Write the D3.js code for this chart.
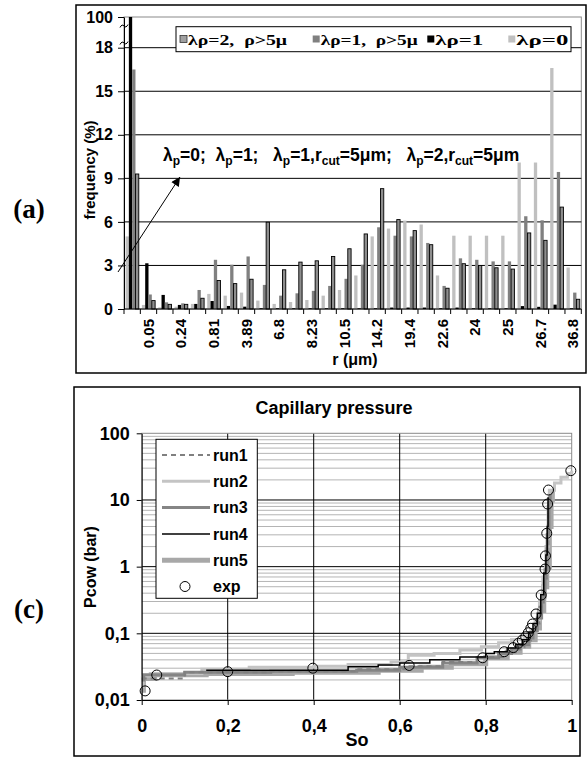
<!DOCTYPE html>
<html>
<head>
<meta charset="utf-8">
<script src="https://cdn.jsdelivr.net/npm/d3@7"></script>
<style>
  body { margin: 0; background: #fff; }
  svg { display: block; font-family: "Liberation Sans", Arial, sans-serif; }
</style>
</head>
<body>
<svg id="chart" width="587" height="757"></svg>
<script>
// ---------- panel (a): pore radius distribution ----------
const rLabels = ["0.02", "0.05", "0.12", "0.24", "0.5", "0.81", "2.1", "3.89", "5.4", "6.8",
                 "7.6", "8.23", "9.3", "10.5", "12.3", "14.2", "16.8", "19.4", "21", "22.6",
                 "23.3", "24", "24.5", "25", "25.9", "26.7", "31", "36.8"];
const lam0    = [5.0, 0.28, 0.11, 0.16, 0.35, 1.04, 0.92, 1.13, 0.58, 0.35, 0.48, 0.62, 0.92, 1.31,
                 2.31, 5.0, 5.54, 6.09, 5.82, 2.31, 5.05, 5.05, 5.05, 5.05, 10.09, 10.09, 16.6, 2.86];
const lam1    = [100, 3.15, 0.97, 0.28, 0.35, 0.55, 0.21, 0.16, 0.05, 0.05, 0.05, 0.05, 0.05, 0.05,
                 0.05, 0.05, 0.1, 0.1, 0.1, 0.05, 0.1, 0.05, 0.05, 0.05, 0.2, 0.15, 0.3, 0.05];
const lam1cut = [16.5, 1.0, 0.46, 0.39, 1.31, 3.39, 3.05, 3.62, 1.66, 0.92, 1.08, 1.25, 1.59, 2.08,
                 3.05, 5.63, 5.05, 5.0, 4.55, 1.59, 3.49, 3.39, 3.28, 3.28, 6.39, 6.11, 9.44, 1.13];
const lam2cut = [9.3, 0.58, 0.32, 0.32, 0.74, 1.96, 1.75, 2.05, 5.98, 2.7, 3.23, 3.32, 3.62, 4.15,
                 5.17, 8.29, 6.16, 5.4, 4.43, 1.43, 3.12, 3.0, 2.84, 2.75, 5.24, 4.73, 7.02, 0.67];
const freqTicks = [0, 3, 6, 9, 12, 15, 18, 100];

// ---------- panel (c): capillary pressure curves, [So, Pcow] ----------
const run1 = [[0, 0.021], [0.1, 0.026], [0.3, 0.027], [0.5, 0.029], [0.62, 0.032], [0.7, 0.037],
              [0.78, 0.044], [0.84, 0.052], [0.87, 0.062], [0.89, 0.078], [0.905, 0.1], [0.915, 0.14],
              [0.925, 0.25], [0.935, 0.6], [0.942, 2], [0.946, 8], [0.948, 12]];
const run2 = [[0, 0.016], [0.003, 0.023], [0.02, 0.025], [0.14, 0.029], [0.25, 0.031], [0.4, 0.032],
              [0.48, 0.034], [0.58, 0.037], [0.62, 0.047], [0.68, 0.05], [0.74, 0.056], [0.79, 0.063],
              [0.83, 0.072], [0.86, 0.08], [0.89, 0.092], [0.905, 0.11], [0.915, 0.15], [0.925, 0.3],
              [0.933, 0.7], [0.94, 2], [0.945, 8], [0.948, 14], [0.96, 18], [0.975, 22], [0.99, 25],
              [1.0, 27.5]];
const run3 = [[0, 0.02], [0.005, 0.024], [0.1, 0.026], [0.3, 0.027], [0.5, 0.028], [0.6, 0.031],
              [0.7, 0.036], [0.78, 0.043], [0.83, 0.05], [0.86, 0.058], [0.88, 0.068], [0.9, 0.085],
              [0.91, 0.11], [0.92, 0.17], [0.93, 0.35], [0.938, 0.9], [0.943, 3], [0.947, 9], [0.95, 12]];
const run4 = [[0.15, 0.028], [0.48, 0.0316], [0.55, 0.0335], [0.6, 0.036], [0.67, 0.04], [0.74, 0.044],
              [0.8, 0.05], [0.82, 0.053], [0.85, 0.06], [0.87, 0.068], [0.885, 0.08], [0.9, 0.105],
              [0.91, 0.14], [0.92, 0.2], [0.928, 0.38], [0.935, 0.8], [0.94, 1.5], [0.943, 4], [0.945, 11]];
const run5 = [[0, 0.014], [0.004, 0.021], [0.03, 0.024], [0.15, 0.025], [0.35, 0.026], [0.55, 0.028],
              [0.65, 0.031], [0.72, 0.035], [0.8, 0.043], [0.85, 0.052], [0.88, 0.064], [0.9, 0.08],
              [0.915, 0.12], [0.925, 0.22], [0.935, 0.5], [0.942, 1.0], [0.948, 4], [0.952, 10], [0.955, 14]];
const expPts = [[0.008, 0.0137], [0.035, 0.0237], [0.2, 0.0266], [0.398, 0.030], [0.622, 0.033],
                [0.793, 0.043], [0.843, 0.053], [0.864, 0.061], [0.876, 0.071], [0.885, 0.079],
                [0.893, 0.089], [0.899, 0.102], [0.905, 0.119], [0.909, 0.138], [0.917, 0.195],
                [0.929, 0.375], [0.938, 0.92], [0.939, 1.45], [0.942, 3.16], [0.944, 8.7],
                [0.946, 14.1], [0.998, 27.5]];
const soTicks = [0, 0.2, 0.4, 0.6, 0.8, 1];
const pcTicks = [0.01, 0.1, 1, 10, 100];

const svg = d3.select("#chart");

// panel frames and labels
svg.append("rect").attr("x", 76).attr("y", 5).attr("width", 510).attr("height", 368)
    .attr("fill", "none").attr("stroke", "#000").attr("stroke-width", 1.5);
svg.append("rect").attr("x", 74).attr("y", 387).attr("width", 506).attr("height", 369)
    .attr("fill", "none").attr("stroke", "#000").attr("stroke-width", 1.5);
svg.append("text").attr("x", 29).attr("y", 218).attr("text-anchor", "middle")
    .attr("font-family", "Liberation Serif").attr("font-weight", "bold").attr("font-size", 27).text("(a)");
svg.append("text").attr("x", 29).attr("y", 618).attr("text-anchor", "middle")
    .attr("font-family", "Liberation Serif").attr("font-weight", "bold").attr("font-size", 27).text("(c)");

// ================= bar chart =================
const a = { left: 124, right: 581.3, top: 17, bottom: 309 };
const series = [
    { key: "lam0", values: lam0, fill: "#c0c0c0", stroke: "none", label: "λρ=0" },
    { key: "lam1", values: lam1, fill: "#000000", stroke: "none", label: "λρ=1" },
    { key: "lam1cut", values: lam1cut, fill: "#808080", stroke: "none", label: "λρ=1,  ρ>5μ" },
    { key: "lam2cut", values: lam2cut, fill: "#8e8e8e", stroke: "#000", label: "λρ=2,  ρ>5μ" }
];

const x0 = d3.scaleBand().domain(rLabels).range([a.left, a.right])
    .paddingInner(0.19).paddingOuter(0.095);
const x1 = d3.scaleBand().domain(series.map(s => s.key)).range([0, x0.bandwidth()]);
const y = d3.scaleLinear().domain([0, 18, 100]).range([a.bottom, 47.7, a.top]);

const barG = svg.append("g");
barG.append("rect").attr("x", a.left).attr("y", a.top)
    .attr("width", a.right - a.left).attr("height", a.bottom - a.top)
    .attr("fill", "#fff").attr("stroke", "#8a8a8a");

barG.selectAll(".grid").data(freqTicks.filter(d => d > 0 && d <= 18)).join("line")
    .attr("x1", a.left).attr("x2", a.right)
    .attr("y1", d => y(d)).attr("y2", d => y(d))
    .attr("stroke", "#000").attr("stroke-width", 1);

series.forEach(s => {
    barG.append("g").selectAll("rect").data(s.values).join("rect")
        .attr("x", (d, i) => x0(rLabels[i]) + x1(s.key))
        .attr("y", d => y(d))
        .attr("width", x1.bandwidth())
        .attr("height", d => y(0) - y(d))
        .attr("fill", s.fill)
        .attr("stroke", s.stroke)
        .attr("stroke-width", 0.9);
});

// y axis
const yAxis = barG.append("g")
    .attr("transform", `translate(${a.left},0)`)
    .call(d3.axisLeft(y).tickValues(freqTicks).tickSize(6).tickPadding(5).tickSizeOuter(0));
yAxis.selectAll("text").attr("font-size", 16).attr("font-weight", "bold")
    .attr("font-family", "Liberation Sans");
// axis break marks between 18 and 100
[26, 43].forEach(yy => {
    barG.append("path")
        .attr("d", `M${a.left - 4},${yy + 1.5} q2,-4 4,-1.5 t4,-1.5`)
        .attr("fill", "none").attr("stroke", "#000").attr("stroke-width", 1);
});

// x axis: ticks on category boundaries, labels on every second category
barG.append("line").attr("x1", a.left).attr("x2", a.right)
    .attr("y1", a.bottom).attr("y2", a.bottom).attr("stroke", "#000");
barG.selectAll(".xtick").data(d3.range(rLabels.length + 1)).join("line")
    .attr("x1", i => a.left + i * x0.step()).attr("x2", i => a.left + i * x0.step())
    .attr("y1", a.bottom).attr("y2", a.bottom + 5).attr("stroke", "#000");
const xAxis = barG.append("g")
    .attr("transform", `translate(0,${a.bottom})`)
    .call(d3.axisBottom(x0).tickValues(rLabels.filter((d, i) => i % 2 === 1)).tickSize(0));
xAxis.select(".domain").remove();
xAxis.selectAll("text")
    .attr("transform", "rotate(-90)")
    .attr("text-anchor", "end")
    .attr("x", -10).attr("y", 0).attr("dy", "0.35em")
    .attr("font-size", 15).attr("font-weight", "bold").attr("font-family", "Liberation Sans");

barG.append("text").attr("x", 355).attr("y", 365).attr("text-anchor", "middle")
    .attr("font-size", 16).attr("font-weight", "bold").text("r (μm)");
barG.append("text").attr("transform", "translate(95,170) rotate(-90)").attr("text-anchor", "middle")
    .attr("font-size", 15).attr("font-weight", "bold").text("frequency (%)");

// legend (wide bold serif, stretched to the original entry widths)
const legA = barG.append("g");
legA.append("rect").attr("x", 176).attr("y", 26.7).attr("width", 395).attr("height", 25)
    .attr("fill", "#fff").attr("stroke", "#000");
const legX = [180, 312.7, 427.3, 508.3];
const legW = [99, 97, 48, 52];
series.slice().reverse().forEach((s, i) => {
    legA.append("rect").attr("x", legX[i]).attr("y", 35.5).attr("width", 7).attr("height", 7)
        .attr("fill", i === 0 ? "#a0a0a0" : s.fill).attr("stroke", s.stroke === "none" ? "none" : "#333")
        .attr("stroke-width", 0.8);
    legA.append("text").attr("x", legX[i] + 8).attr("y", 44.5)
        .attr("font-family", "Liberation Serif").attr("font-weight", "bold").attr("font-size", 15)
        .attr("textLength", legW[i]).attr("lengthAdjust", "spacingAndGlyphs")
        .style("white-space", "pre").text(s.label);
});

// annotation with arrow
const defs = svg.append("defs");
defs.append("marker").attr("id", "arrow").attr("viewBox", "0 0 10 10")
    .attr("refX", 10).attr("refY", 5).attr("markerWidth", 11).attr("markerHeight", 9)
    .attr("orient", "auto")
    .append("path").attr("d", "M0,0 L10,5 L0,10 z").attr("fill", "#000");
svg.append("line").attr("x1", 118).attr("y1", 272).attr("x2", 180).attr("y2", 177)
    .attr("stroke", "#000").attr("stroke-width", 1).attr("marker-end", "url(#arrow)");

const note = svg.append("text").attr("x", 163).attr("y", 161)
    .attr("font-size", 17.5).attr("font-weight", "bold").style("white-space", "pre");
const noteParts = [["λ", 0], ["p", 1], ["=0;  λ", 0], ["p", 1], ["=1;   λ", 0], ["p", 1],
                   ["=1,r", 0], ["cut", 1], ["=5μm;   λ", 0], ["p", 1], ["=2,r", 0], ["cut", 1], ["=5μm", 0]];
let prevSub = 0;
noteParts.forEach(([t, sub]) => {
    note.append("tspan").attr("dy", (sub - prevSub) * 4).attr("font-size", sub ? 12 : 17.5).text(t);
    prevSub = sub;
});

// ================= capillary pressure =================
const c = { left: 141.7, right: 571.7, top: 433.3, bottom: 700 };
const xs = d3.scaleLinear().domain([0, 1]).range([c.left, c.right]);
const ys = d3.scaleLog().domain([0.01, 100]).range([c.bottom, c.top]);
const fmt = d3.formatLocale({ decimal: ",", thousands: ".", grouping: [3], currency: ["", ""] }).format("~g");

const cG = svg.append("g");
const minor = ys.ticks().filter(d => !pcTicks.includes(d));
cG.selectAll(".minor").data(minor).join("line")
    .attr("x1", c.left).attr("x2", c.right).attr("y1", d => ys(d)).attr("y2", d => ys(d))
    .attr("stroke", "#b4b4b4").attr("stroke-width", 1);
cG.selectAll(".hmajor").data(pcTicks.slice(1, -1)).join("line")
    .attr("x1", c.left).attr("x2", c.right).attr("y1", d => ys(d)).attr("y2", d => ys(d))
    .attr("stroke", "#000").attr("stroke-width", 1);
cG.selectAll(".vmajor").data(soTicks.slice(1, -1)).join("line")
    .attr("x1", d => xs(d)).attr("x2", d => xs(d)).attr("y1", c.top).attr("y2", c.bottom)
    .attr("stroke", "#000").attr("stroke-width", 1);
cG.append("rect").attr("x", c.left).attr("y", c.top)
    .attr("width", c.right - c.left).attr("height", c.bottom - c.top)
    .attr("fill", "none").attr("stroke", "#8a8a8a");

const line = d3.line().x(d => xs(d[0])).y(d => ys(d[1])).curve(d3.curveStepAfter);
const runs = [
    { name: "run5", data: run5, color: "#a8a8a8", width: 5, dash: null },
    { name: "run2", data: run2, color: "#c4c4c4", width: 3, dash: null },
    { name: "run3", data: run3, color: "#858585", width: 3, dash: null },
    { name: "run1", data: run1, color: "#808080", width: 2, dash: "5,4" },
    { name: "run4", data: run4, color: "#000000", width: 1.5, dash: null }
];
runs.forEach(r => {
    cG.append("path").datum(r.data).attr("d", line)
        .attr("fill", "none").attr("stroke", r.color).attr("stroke-width", r.width)
        .attr("stroke-dasharray", r.dash);
});
cG.selectAll(".exp").data(expPts).join("circle")
    .attr("cx", d => xs(d[0])).attr("cy", d => ys(d[1])).attr("r", 5)
    .attr("fill", "none").attr("stroke", "#000").attr("stroke-width", 1);

const yAx = cG.append("g").attr("transform", `translate(${c.left},0)`)
    .call(d3.axisLeft(ys).tickValues(pcTicks).tickFormat(fmt).tickSize(5).tickPadding(7).tickSizeOuter(0));
const xAx = cG.append("g").attr("transform", `translate(0,${c.bottom})`)
    .call(d3.axisBottom(xs).tickValues(soTicks).tickFormat(fmt).tickSize(5).tickPadding(14).tickSizeOuter(0));
[yAx, xAx].forEach(g => g.selectAll("text").attr("font-size", 18).attr("font-weight", "bold")
    .attr("font-family", "Liberation Sans"));

cG.append("text").attr("x", 334).attr("y", 414).attr("text-anchor", "middle")
    .attr("font-size", 18).attr("font-weight", "bold").text("Capillary pressure");
cG.append("text").attr("x", 357).attr("y", 746).attr("text-anchor", "middle")
    .attr("font-size", 18).attr("font-weight", "bold").text("So");
cG.append("text").attr("transform", "translate(96,567) rotate(-90)").attr("text-anchor", "middle")
    .attr("font-size", 16).attr("font-weight", "bold").text("Pcow (bar)");

// legend
const legC = cG.append("g");
legC.append("rect").attr("x", 156).attr("y", 439.3).attr("width", 101.3).attr("height", 159)
    .attr("fill", "#fff").attr("stroke", "#000");
const legItems = [runs[3], runs[1], runs[2], runs[4], runs[0]];
legItems.forEach((r, i) => {
    const yy = 455 + i * 26.3;
    legC.append("line").attr("x1", 162).attr("x2", 210).attr("y1", yy).attr("y2", yy)
        .attr("stroke", r.color).attr("stroke-width", r.width).attr("stroke-dasharray", r.dash);
    legC.append("text").attr("x", 213).attr("y", yy).attr("dy", "0.35em")
        .attr("font-size", 16).attr("font-weight", "bold").text(r.name);
});
legC.append("circle").attr("cx", 185).attr("cy", 455 + 5 * 26.3).attr("r", 5)
    .attr("fill", "#fff").attr("stroke", "#000");
legC.append("text").attr("x", 213).attr("y", 455 + 5 * 26.3).attr("dy", "0.35em")
    .attr("font-size", 16).attr("font-weight", "bold").text("exp");
</script>
</body>
</html>
